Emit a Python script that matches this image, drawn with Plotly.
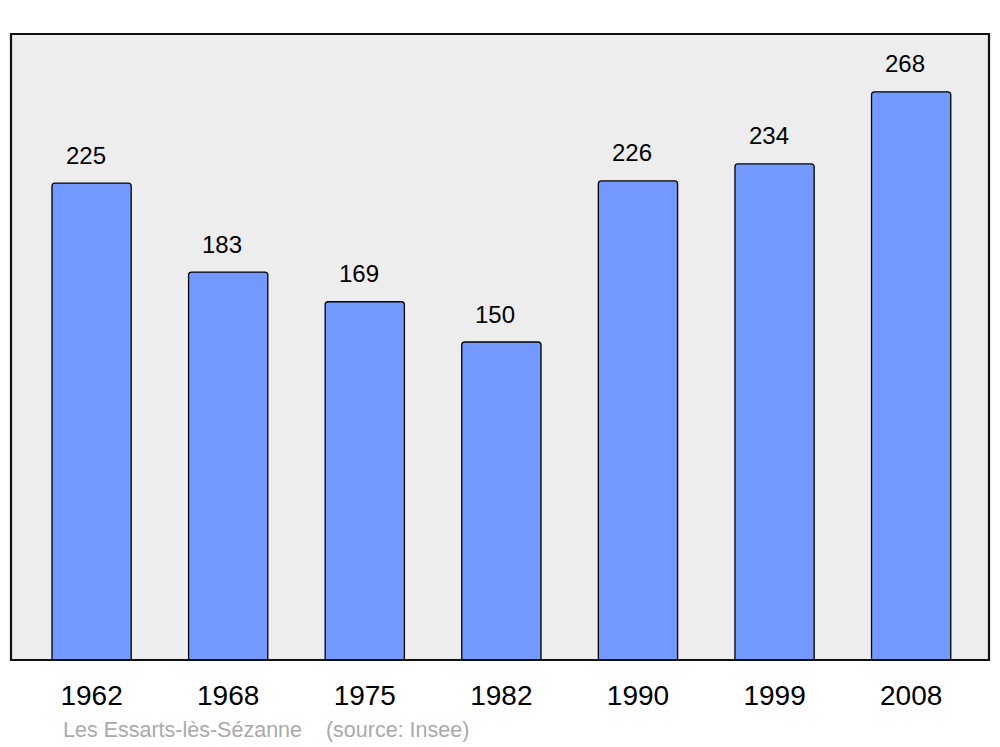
import plotly.graph_objects as go

years = ["1962", "1968", "1975", "1982", "1990", "1999", "2008"]
population = [225, 183, 169, 150, 226, 234, 268]
commune = "Les Essarts-lès-Sézanne"
source = "(source: Insee)"

fig = go.Figure(
    go.Bar(
        x=years,
        y=population,
        width=0.58,
        marker=dict(color="#7399FF", line=dict(color="#000000", width=1.3)),
        hoverinfo="x+y",
    )
)

# category axis: place labels by category index
for i, val in enumerate(population):
    fig.add_annotation(
        x=i, y=val, text=str(val), showarrow=False,
        yshift=28, xshift=-6, font=dict(size=24, color="#000000"),
    )

fig.add_annotation(
    xref="paper", yref="paper", x=(61 - 11) / 978, y=(660 - 730) / 626,
    xanchor="left", yanchor="middle", showarrow=False,
    text=commune + "&nbsp;&nbsp;&nbsp;&nbsp;" + source,
    font=dict(size=21.5, color="#AAAAAA"),
)

fig.add_shape(
    type="rect", xref="paper", yref="paper", x0=0, x1=1, y0=0, y1=1,
    line=dict(color="#111111", width=2.2), layer="above",
)

fig.update_layout(
    width=1000, height=747,
    margin=dict(l=11, r=11, t=34, b=87),
    paper_bgcolor="#FFFFFF", plot_bgcolor="#EDEDED",
    font=dict(family="Liberation Sans, Arial, sans-serif", color="#000000"),
    barcornerradius=3,
    showlegend=False,
)
fig.update_xaxes(
    type="category",
    range=[-0.59, 6.57], showgrid=False, zeroline=False, showline=False,
    ticks="", tickfont=dict(size=28), ticklabelstandoff=16,
)
fig.update_yaxes(
    range=[0, 295.3], showgrid=False, zeroline=False, showline=False,
    showticklabels=False, ticks="",
)

fig.write_html(
    "out.html",
    config={"displayModeBar": False},
    post_script="document.body.style.margin='0';",
)
